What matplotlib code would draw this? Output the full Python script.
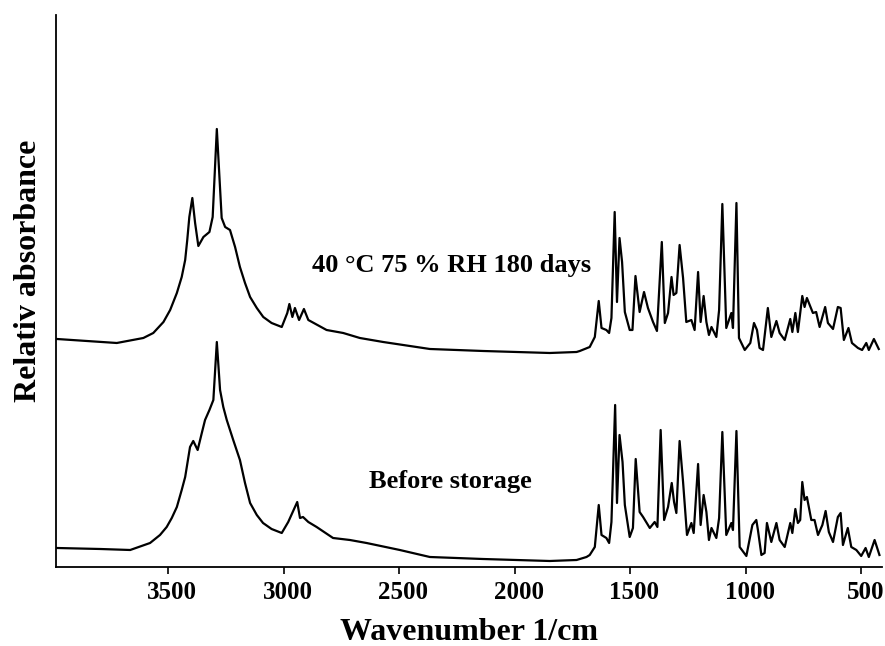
import numpy as np
import matplotlib.pyplot as plt
from matplotlib.transforms import ScaledTranslation

plt.rcParams['font.family'] = ['Liberation Serif', 'DejaVu Serif']
plt.rcParams['font.weight'] = 'bold'

# Before storage spectrum (wavenumber 1/cm, relative absorbance)
wn_before = [3981, 3794, 3664, 3578, 3535, 3506, 3484, 3462, 3441, 3426, 3412, 3405,
             3391, 3372, 3354, 3340, 3321, 3304, 3289, 3275, 3261, 3246, 3218, 3189,
             3167, 3145, 3116, 3089, 3052, 3008, 2980, 2941, 2929, 2916, 2893, 2857,
             2786, 2713, 2641, 2497, 2367, 2138, 1848, 1732, 1689, 1675, 1653, 1636, 1624,
             1603, 1591, 1581, 1565, 1557, 1546, 1533, 1523, 1502, 1488, 1476, 1459,
             1444, 1415, 1394, 1382, 1368, 1353, 1336, 1320, 1310, 1300, 1286, 1271,
             1254, 1235, 1225, 1206, 1195, 1182, 1170, 1159, 1148, 1127, 1115, 1101,
             1084, 1062, 1055, 1040, 1026, 997, 971, 954, 947, 932, 918, 908, 889,
             867, 853, 831, 807, 798, 785, 774, 764, 755, 745, 735, 716, 702, 687,
             668, 654, 640, 622, 601, 589, 579, 558, 543, 521, 500, 481, 467, 442, 421]
abs_before = [0.19, 0.18, 0.17, 0.24, 0.32, 0.40, 0.49, 0.60, 0.77, 0.90, 1.10, 1.20,
              1.26, 1.17, 1.34, 1.47, 1.57, 1.67, 2.25, 1.77, 1.60, 1.47, 1.27, 1.07,
              0.84, 0.64, 0.52, 0.44, 0.38, 0.34, 0.45, 0.65, 0.49, 0.50, 0.45, 0.40,
              0.29, 0.27, 0.24, 0.17, 0.10, 0.08, 0.06, 0.07, 0.10, 0.12, 0.20, 0.62, 0.32,
              0.29, 0.24, 0.45, 1.62, 0.64, 1.32, 1.05, 0.62, 0.30, 0.39, 1.08, 0.55,
              0.50, 0.39, 0.45, 0.40, 1.37, 0.47, 0.60, 0.84, 0.65, 0.54, 1.26, 0.85,
              0.32, 0.44, 0.34, 1.03, 0.42, 0.72, 0.55, 0.27, 0.39, 0.29, 0.49, 1.35,
              0.32, 0.44, 0.37, 1.36, 0.20, 0.11, 0.42, 0.47, 0.37, 0.12, 0.14, 0.44, 0.25,
              0.44, 0.27, 0.20, 0.44, 0.34, 0.58, 0.44, 0.47, 0.85, 0.67, 0.70, 0.47, 0.47, 0.32,
              0.42, 0.56, 0.35, 0.25, 0.50, 0.54, 0.22, 0.39, 0.20, 0.17, 0.11, 0.19, 0.10, 0.27, 0.12]

# 40 °C 75 % RH 180 days spectrum
wn_stored = [3981, 3722, 3607, 3564, 3520, 3491, 3462, 3441, 3426, 3417, 3408, 3395,
             3383, 3369, 3347, 3321, 3307, 3289, 3268, 3253, 3232, 3210, 3189, 3167,
             3145, 3116, 3088, 3052, 3008, 2984, 2975, 2962, 2951, 2933, 2912, 2893,
             2814, 2742, 2670, 2569, 2367, 2136, 1848, 1732, 1718, 1675,
             1653, 1636, 1624, 1603, 1591, 1581, 1567, 1557, 1546, 1535, 1523, 1502,
             1490, 1477, 1459, 1440, 1423, 1401, 1384, 1363, 1350, 1336, 1321, 1312,
             1300, 1286, 1271, 1257, 1235, 1221, 1206, 1195, 1182, 1170, 1159, 1148,
             1127, 1115, 1101, 1084, 1062, 1055, 1040, 1029, 1004, 980, 964, 951, 940,
             925, 904, 889, 867, 853, 831, 807, 798, 785, 774, 755, 745, 735, 709, 695,
             680, 656, 644, 622, 601, 589, 575, 555, 540, 514, 496, 478, 467, 445, 424]
abs_stored = [0.19, 0.15, 0.20, 0.25, 0.36, 0.48, 0.65, 0.81, 0.98, 1.18, 1.41, 1.60,
              1.35, 1.12, 1.21, 1.26, 1.41, 2.29, 1.40, 1.31, 1.28, 1.11, 0.91, 0.75,
              0.61, 0.50, 0.41, 0.35, 0.31, 0.45, 0.54, 0.41, 0.50, 0.38, 0.49, 0.38,
              0.28, 0.25, 0.20, 0.16, 0.09, 0.07, 0.05, 0.06, 0.07, 0.11,
              0.21, 0.57, 0.30, 0.28, 0.25, 0.40, 1.46, 0.56, 1.20, 0.96, 0.46, 0.28,
              0.28, 0.82, 0.46, 0.66, 0.50, 0.36, 0.27, 1.16, 0.35, 0.45, 0.81, 0.63,
              0.65, 1.13, 0.80, 0.36, 0.38, 0.28, 0.86, 0.36, 0.62, 0.36, 0.23, 0.31,
              0.21, 0.48, 1.54, 0.30, 0.45, 0.30, 1.55, 0.20, 0.08, 0.15, 0.35, 0.28, 0.10,
              0.08, 0.50, 0.21, 0.37, 0.25, 0.18, 0.39, 0.26, 0.45, 0.26, 0.62, 0.51, 0.60, 0.45, 0.46,
              0.31, 0.51, 0.35, 0.29, 0.51, 0.50, 0.18, 0.30, 0.15, 0.10, 0.08, 0.15, 0.08, 0.19, 0.09]

offset = 2.09
xticks = [3500, 3000, 2500, 2000, 1500, 1000, 500]

fig = plt.figure(figsize=(8.85, 6.46), dpi=100)
ax = fig.add_axes([0.0633, 0.1223, 0.9333, 0.8545])

ax.plot(wn_before, abs_before, color='black', lw=1.6)
ax.plot(wn_stored, np.array(abs_stored) + offset, color='black', lw=1.6)

ax.set_xlim(3985, 410)
ax.set_ylim(0, 5.52)
ax.set_xticks(xticks)
ax.set_yticks([])
ax.tick_params(axis='x', direction='out', length=5, width=1.2, labelsize=18, pad=5)
shift = ScaledTranslation(0.04, 0, fig.dpi_scale_trans)
for lab in ax.get_xticklabels():
    lab.set_fontweight('bold')
    lab.set_transform(lab.get_transform() + shift)

for s in ['top', 'right']:
    ax.spines[s].set_visible(False)
for s in ['left', 'bottom']:
    ax.spines[s].set_linewidth(1.3)

ax.text(0.479, 0.547, '40 °C 75 % RH 180 days', transform=ax.transAxes,
        ha='center', va='center', fontsize=19, fontweight='bold')
ax.text(0.478, 0.154, 'Before storage', transform=ax.transAxes,
        ha='center', va='center', fontsize=19, fontweight='bold')

ax.set_xlabel('Wavenumber 1/cm', fontsize=23, fontweight='bold', labelpad=10)
ax.set_ylabel('Relativ absorbance', fontsize=23, fontweight='bold')
ax.yaxis.set_label_coords(-0.016, 0.537)

fig.savefig('out.png', dpi=100)
